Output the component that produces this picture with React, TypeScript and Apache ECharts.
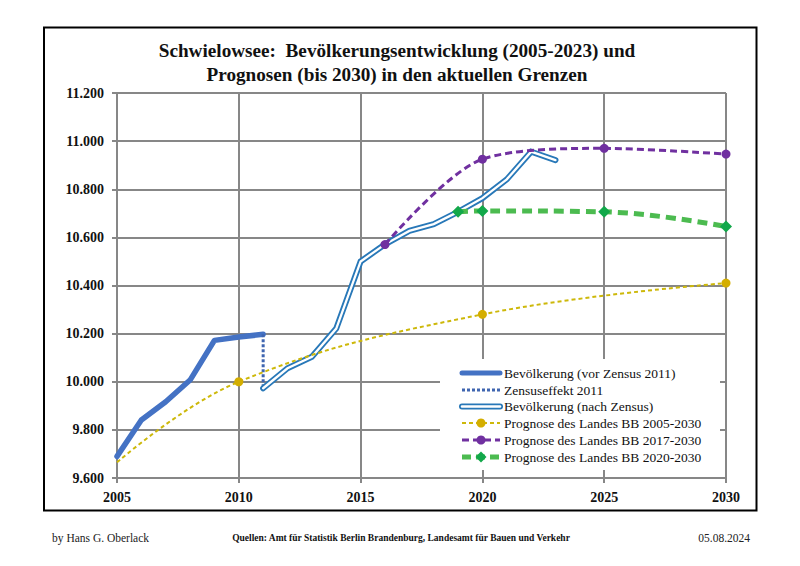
import React, { useEffect, useRef } from "react";
import * as echarts from "echarts";

const preYears = [2005, 2006, 2007, 2008, 2009, 2010, 2011];
const prePop = [9690, 9841, 9917, 10007, 10172, 10186, 10197];

const censusYears = [2011, 2012, 2013, 2014, 2015, 2016, 2017, 2018, 2019, 2020, 2021, 2022, 2023];
const censusPop = [9973, 10056, 10104, 10221, 10500, 10571, 10627, 10655, 10706, 10763, 10841, 10956, 10921];

const effectYears = [2011, 2011];
const effectPop = [10197, 9973];

const prog2005Years = [2005, 2010, 2020, 2030];
const prog2005Pop = [9665, 10000, 10280, 10410];

const prog2017Years = [2016, 2020, 2025, 2030];
const prog2017Pop = [10570, 10925, 10970, 10946];

const prog2020Years = [2019, 2020, 2025, 2030];
const prog2020Pop = [10706, 10710, 10706, 10645];

const legendLabels = [
  "Bevölkerung (vor Zensus 2011)",
  "Zensuseffekt 2011",
  "Bevölkerung (nach Zensus)",
  "Prognose des Landes BB 2005-2030",
  "Prognose des Landes BB 2017-2030",
  "Prognose des Landes BB 2020-2030",
];

const titleText = "Schwielowsee:  Bevölkerungsentwicklung (2005-2023) und\nPrognosen (bis 2030) in den aktuellen Grenzen";
const authorText = "by Hans G. Oberlack";
const sourceText = "Quellen: Amt für Statistik Berlin Brandenburg, Landesamt für Bauen und Verkehr";
const dateText = "05.08.2024";

const zip = (xs: number[], ys: number[]) => xs.map((x, i) => [x, ys[i]]);

const SERIF = "'Liberation Serif', 'DejaVu Serif', serif";
const C_PRE = "#4472c4";
const C_EFF = "#3f65b0";
const C_CEN = "#2878b8";
const C_YEL = "#cdb80a";
const C_YEL_M = "#d4ae00";
const C_PUR = "#7030a0";
const C_GRN = "#4cbb50";
const C_GRN_M = "#12a84a";
const GRID = "#878787";

export default function App() {
  const ref = useRef<HTMLDivElement>(null);
  useEffect(() => {
    if (!ref.current) return;
    const chart = echarts.init(ref.current, null, { renderer: "svg" });

    const lx0 = 462;
    const lx1 = 500;
    const lmid = (lx0 + lx1) / 2;
    const rowY = [373, 390, 406.5, 423, 440, 457];
    const legendGraphics: any[] = [
      {
        type: "rect",
        shape: { x: 440, y: 359, width: 280, height: 111 },
        style: { fill: "#ffffff" },
        z: 100,
      },
      { type: "line", shape: { x1: lx0, y1: rowY[0], x2: lx1, y2: rowY[0] }, style: { stroke: C_PRE, lineWidth: 5, lineCap: "round" }, z: 101 },
      { type: "line", shape: { x1: lx0, y1: rowY[1], x2: lx1, y2: rowY[1] }, style: { stroke: C_EFF, lineWidth: 3, lineDash: [3, 2] }, z: 101 },
      { type: "line", shape: { x1: lx0, y1: rowY[2], x2: lx1, y2: rowY[2] }, style: { stroke: C_CEN, lineWidth: 6, lineCap: "round" }, z: 101 },
      { type: "line", shape: { x1: lx0, y1: rowY[2], x2: lx1, y2: rowY[2] }, style: { stroke: "#ffffff", lineWidth: 2.5, lineCap: "round" }, z: 102 },
      { type: "line", shape: { x1: lx0, y1: rowY[3], x2: lx1, y2: rowY[3] }, style: { stroke: C_YEL, lineWidth: 2, lineDash: [4, 3] }, z: 101 },
      { type: "circle", shape: { cx: lmid, cy: rowY[3], r: 4.5 }, style: { fill: C_YEL_M }, z: 102 },
      { type: "line", shape: { x1: lx0, y1: rowY[4], x2: lx1, y2: rowY[4] }, style: { stroke: C_PUR, lineWidth: 3, lineDash: [7, 4] }, z: 101 },
      { type: "circle", shape: { cx: lmid, cy: rowY[4], r: 4.5 }, style: { fill: C_PUR }, z: 102 },
      { type: "line", shape: { x1: lx0, y1: rowY[5], x2: lx1, y2: rowY[5] }, style: { stroke: C_GRN, lineWidth: 5, lineDash: [9, 5] }, z: 101 },
      {
        type: "polygon",
        shape: { points: [[lmid, rowY[5] - 5.5], [lmid + 5.5, rowY[5]], [lmid, rowY[5] + 5.5], [lmid - 5.5, rowY[5]]] },
        style: { fill: C_GRN_M },
        z: 102,
      },
    ];
    legendLabels.forEach((t, i) => {
      legendGraphics.push({
        type: "text",
        x: 504,
        y: rowY[i],
        style: { text: t, fontFamily: SERIF, fontSize: 13.5, fill: "#111", textVerticalAlign: "middle", textAlign: "left" },
        z: 103,
      });
    });

    const option: any = {
      animation: false,
      backgroundColor: "#ffffff",
      title: {
        text: titleText,
        left: 392,
        top: 33,
        textAlign: "center",
        textStyle: { fontFamily: SERIF, fontSize: 19.2, fontWeight: "bold", color: "#111", lineHeight: 24 },
      },
      grid: { left: 117, top: 93, width: 609, height: 385, containLabel: false },
      xAxis: {
        type: "value",
        min: 2005,
        max: 2030,
        interval: 5,
        axisLine: { show: true, lineStyle: { color: GRID, width: 2 } },
        axisTick: { show: true, length: 5, lineStyle: { color: GRID, width: 2 } },
        splitLine: { show: true, lineStyle: { color: GRID, width: 2 } },
        axisLabel: {
          fontFamily: SERIF,
          fontSize: 14,
          fontWeight: "bold",
          color: "#111",
          margin: 12,
          formatter: (v: number) => String(Math.round(v)),
        },
      },
      yAxis: {
        type: "value",
        min: 9600,
        max: 11200,
        interval: 200,
        axisLine: { show: true, lineStyle: { color: GRID, width: 2 } },
        axisTick: { show: true, length: 5, lineStyle: { color: GRID, width: 2 } },
        splitLine: { show: true, lineStyle: { color: GRID, width: 2 } },
        axisLabel: {
          fontFamily: SERIF,
          fontSize: 14,
          fontWeight: "bold",
          color: "#111",
          margin: 13,
          formatter: (v: number) => {
            const s = String(Math.round(v));
            return s.length > 3 ? s.slice(0, s.length - 3) + "." + s.slice(s.length - 3) : s;
          },
        },
      },
      series: [
        {
          name: legendLabels[0],
          type: "line",
          data: zip(preYears, prePop),
          symbol: "none",
          lineStyle: { color: C_PRE, width: 5.5, cap: "round", join: "round" },
          z: 3,
        },
        {
          name: legendLabels[1],
          type: "line",
          data: zip(effectYears, effectPop),
          symbol: "none",
          lineStyle: { color: C_EFF, width: 3, type: [3, 2] },
          z: 3,
        },
        {
          name: legendLabels[2],
          type: "line",
          data: zip(censusYears, censusPop),
          symbol: "none",
          lineStyle: { color: C_CEN, width: 6, cap: "round", join: "miter" },
          z: 3,
        },
        {
          name: legendLabels[2] + " inner",
          type: "line",
          data: zip(censusYears, censusPop),
          symbol: "none",
          lineStyle: { color: "#ffffff", width: 2.3, cap: "round", join: "miter" },
          z: 4,
        },
        {
          name: legendLabels[3],
          type: "line",
          data: prog2005Years.map((y, i) =>
            i === 0 ? { value: [y, prog2005Pop[i]], symbol: "none" } : { value: [y, prog2005Pop[i]] }
          ),
          smooth: 0.4,
          symbol: "circle",
          symbolSize: 9,
          itemStyle: { color: C_YEL_M },
          lineStyle: { color: C_YEL, width: 2, type: [4, 3] },
          z: 5,
        },
        {
          name: legendLabels[4],
          type: "line",
          data: zip(prog2017Years, prog2017Pop),
          smooth: 0.3,
          symbol: "circle",
          symbolSize: 9,
          itemStyle: { color: C_PUR },
          lineStyle: { color: C_PUR, width: 3, type: [7, 4] },
          z: 6,
        },
        {
          name: legendLabels[5],
          type: "line",
          data: zip(prog2020Years, prog2020Pop),
          smooth: 0.4,
          symbol: "diamond",
          symbolSize: 12,
          itemStyle: { color: C_GRN_M },
          lineStyle: { color: C_GRN, width: 5, type: [10, 6] },
          z: 6,
        },
      ],
      graphic: [
        {
          type: "rect",
          shape: { x: 44, y: 27.5, width: 712.5, height: 483 },
          style: { fill: "none", stroke: "#000", lineWidth: 2 },
          z: 50,
        },
        ...legendGraphics,
        {
          type: "text",
          x: 52,
          y: 538,
          style: { text: authorText, fontFamily: SERIF, fontSize: 11.5, fill: "#222", textVerticalAlign: "middle" },
        },
        {
          type: "text",
          x: 401,
          y: 538,
          style: { text: sourceText, fontFamily: SERIF, fontSize: 9.5, fontWeight: "bold", fill: "#111", textAlign: "center", textVerticalAlign: "middle" },
        },
        {
          type: "text",
          x: 750,
          y: 538,
          style: { text: dateText, fontFamily: SERIF, fontSize: 11.5, fill: "#222", textAlign: "right", textVerticalAlign: "middle" },
        },
      ],
    };
    chart.setOption(option);
    return () => chart.dispose();
  }, []);

  return (
    <div
      ref={ref}
      style={{ position: "fixed", left: 0, top: 0, width: 800, height: 566, background: "#fff" }}
    />
  );
}
